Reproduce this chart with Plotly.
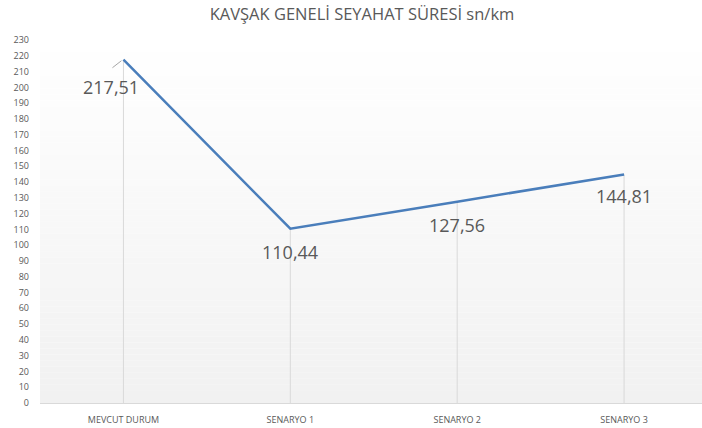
import plotly.graph_objects as go

# Chart data
categories = ["MEVCUT DURUM", "SENARYO 1", "SENARYO 2", "SENARYO 3"]
travel_time = [217.51, 110.44, 127.56, 144.81]
y_ticks = list(range(0, 231, 10))

# Label offsets (pixels) relative to each point
label_dx = [-12, 0, 0, 0]
label_dy = [-27, -23, -23, -22]

LINE_COLOR = "#4a7ebb"
TEXT_COLOR = "#595959"

fig = go.Figure()

fig.add_trace(go.Scatter(
    x=list(range(len(categories))),
    y=travel_time,
    mode="lines",
    line=dict(color=LINE_COLOR, width=2.5),
    hoverinfo="skip",
    showlegend=False,
))

shapes = []

# Vertical gradient for the plot area background (white at top, light grey at bottom)
n_bands = 60
for k in range(n_bands):
    t = (k + 0.5) / n_bands
    level = round(255 - (255 - 241) * t)
    shapes.append(dict(
        type="rect", xref="x domain", yref="y domain",
        x0=0, x1=1, y0=1 - (k + 1) / n_bands, y1=1 - k / n_bands,
        fillcolor=f"rgb({level},{level},{level})",
        line=dict(width=0), layer="below",
    ))

# Drop lines from each point to the category axis
for i, v in enumerate(travel_time):
    shapes.append(dict(
        type="line", xref="x", yref="y",
        x0=i, x1=i, y0=0, y1=v,
        line=dict(color="#d9d9d9", width=1), layer="below",
    ))

# Short leader line for the first data label
shapes.append(dict(
    type="line", xref="x", yref="y",
    xsizemode="pixel", ysizemode="pixel",
    xanchor=0, yanchor=travel_time[0],
    x0=-11, x1=-2, y0=-8, y1=-1,
    line=dict(color="#a6a6a6", width=1),
))

annotations = []
for i, v in enumerate(travel_time):
    annotations.append(dict(
        x=i, y=v, xref="x", yref="y",
        text=f"{v:.2f}".replace(".", ","),
        showarrow=False,
        xshift=label_dx[i], yshift=label_dy[i],
        font=dict(family="Open Sans", size=18, color=TEXT_COLOR),
    ))

fig.update_layout(
    width=702, height=428,
    margin=dict(l=39.5, r=0, t=40, b=25),
    paper_bgcolor="white",
    plot_bgcolor="rgba(0,0,0,0)",
    title=dict(
        text="KAVŞAK GENELİ SEYAHAT SÜRESİ sn/km",
        x=362 / 702, xanchor="center",
        y=1 - 14 / 428, yanchor="middle",
        font=dict(family="Open Sans", size=16.5, color=TEXT_COLOR),
    ),
    shapes=shapes,
    annotations=annotations,
    xaxis=dict(
        tickmode="array",
        tickvals=list(range(len(categories))),
        ticktext=categories,
        range=[-0.5, 3.467],
        showgrid=False, zeroline=False,
        showline=True, linecolor="#d9d9d9", linewidth=1,
        ticks="", ticklabelstandoff=8,
        tickfont=dict(family="Open Sans", size=9, color=TEXT_COLOR),
    ),
    yaxis=dict(
        range=[0, 230],
        tickmode="array",
        tickvals=y_ticks,
        ticktext=[str(t) for t in y_ticks],
        showgrid=False, zeroline=False, showline=False,
        ticks="", ticklabelstandoff=10,
        tickfont=dict(family="Open Sans", size=9, color=TEXT_COLOR),
    ),
)

fig.write_html("out.html")
